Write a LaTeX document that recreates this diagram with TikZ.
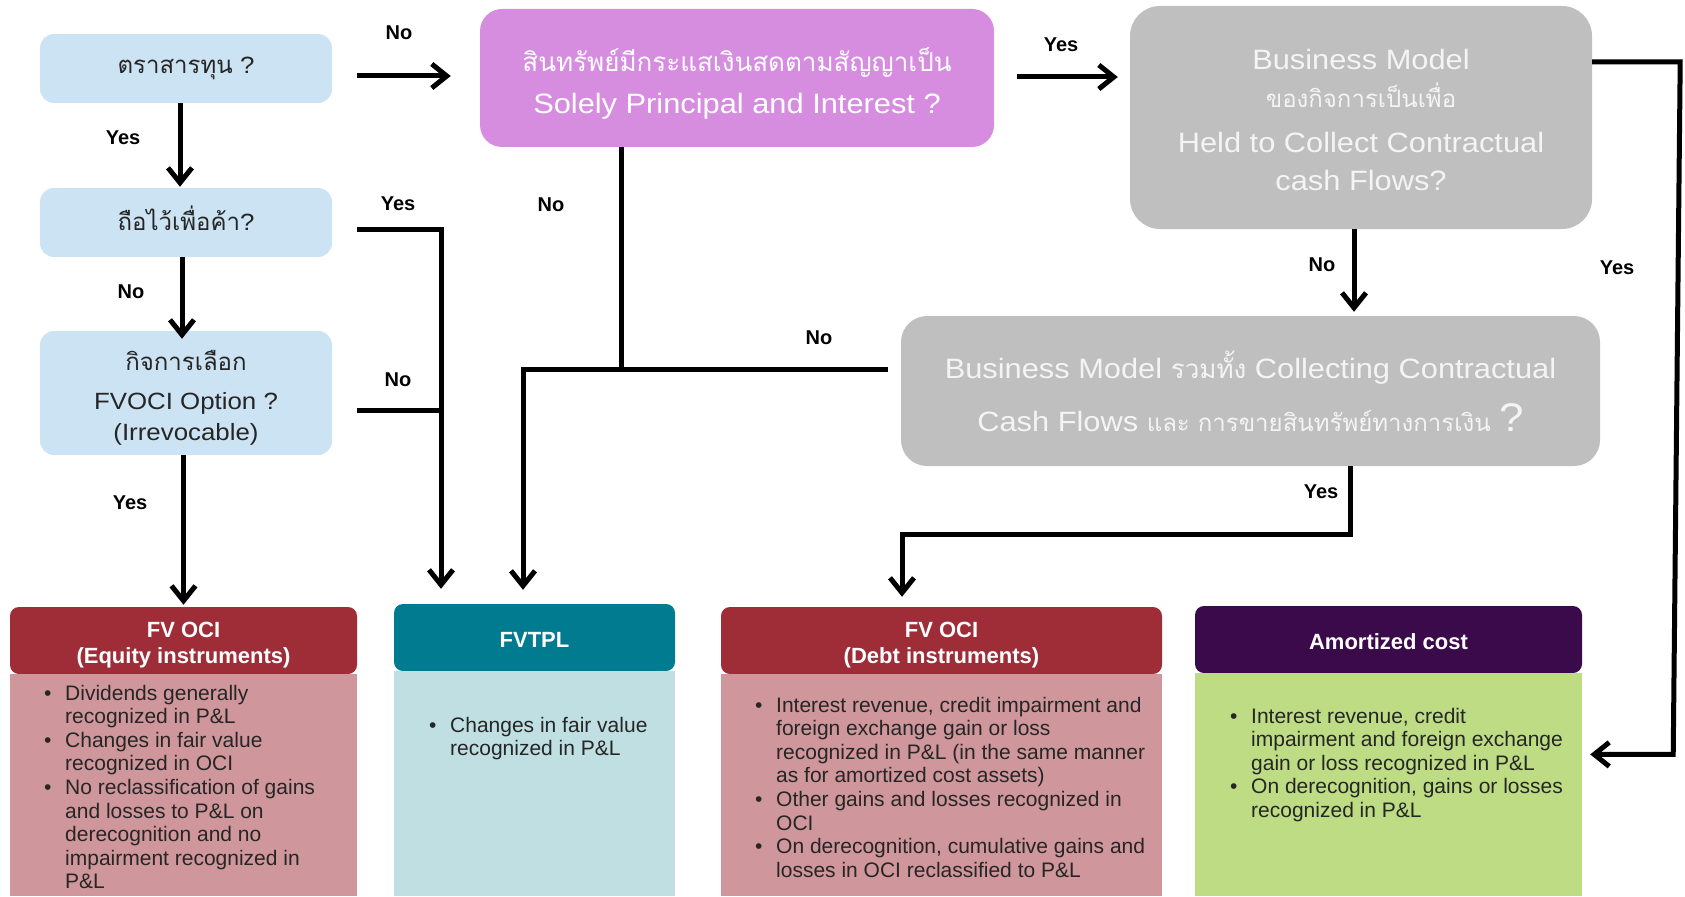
\documentclass[tikz,border=0pt]{standalone}
\usepackage{fontspec}
\setmainfont{Liberation Sans}
\newfontfamily\thai[Script=Thai]{Loma}
\newfontfamily\wide[FakeStretch=1.1]{Liberation Sans}
\usetikzlibrary{arrows.meta,calc}

\definecolor{qblue}{HTML}{CCE3F3}
\definecolor{qpink}{HTML}{D68DE0}
\definecolor{qgray}{HTML}{BFBFBF}
\definecolor{fvred}{HTML}{9E2D38}
\definecolor{fvredbody}{HTML}{CF969B}
\definecolor{tplhead}{HTML}{007B8F}
\definecolor{tplbody}{HTML}{BFDFE3}
\definecolor{amhead}{HTML}{3A0A4A}
\definecolor{ambody}{HTML}{BDDC83}
\definecolor{ink}{HTML}{262626}
\definecolor{paleink}{HTML}{F4F4F4}

\newcommand{\fs}[2]{\fontsize{#1}{#2}\selectfont}

\begin{document}
\begin{tikzpicture}[x=1pt,y=-1pt,
  question/.style={inner sep=0pt, align=center},
  bluebox/.style={question, rounded corners=14pt, fill=qblue, text=ink,
    minimum width=292pt, font=\wide\fs{23.5}{31}},
  bluetext/.style={inner sep=0pt, align=center, text=ink, font=\wide\fs{23.5}{31}},
  pinkbox/.style={question, rounded corners=22pt, fill=qpink},
  pinktext/.style={inner sep=0pt, align=center, text=white, font=\wide\fs{28}{37}},
  graybox/.style={question, rounded corners=30pt, fill=qgray, text=paleink,
    font=\wide\fs{28}{38}},
  graytext/.style={inner sep=0pt, align=center, text=paleink, font=\wide\fs{28}{38}},
  head/.style={inner sep=0pt, rounded corners=9pt, minimum height=67pt},
  headtext/.style={inner sep=0pt, align=center, text=white, font=\bfseries\fs{22}{26}},
  body/.style={inner sep=0pt, anchor=north},
  bullets/.style={anchor=base west, inner sep=0pt, font=\fs{21}{23.6}, text=ink},
  conn/.style={line width=5pt},
  arr/.style={conn, -{Straight Barb[length=15pt,width=24pt,line width=5pt]}},
  lbl/.style={inner sep=0pt, font=\bfseries\fs{20}{24}}
]
\useasboundingbox (0,0) rectangle (1685,896);

% ---------- decision boxes ----------
\node[bluebox, minimum height=69pt] (equity) at (186,68.5)
  {{\thai\fs{24}{30}ตราสารทุน} ?};
\node[bluebox, minimum height=69pt,
  label={[bluetext, yshift=4.5pt]center:{\thai\fs{24}{30}ถือไว้เพื่อค้า}?}] (held) at (186,222.5) {};
\node[bluebox, minimum height=124pt,
  label={[bluetext, yshift=-5pt]center:{\thai\fs{24}{30}กิจการเลือก}\\[8pt] FVOCI Option ?\\ (Irrevocable)}]
  (option) at (186,393) {};
\node[pinkbox, minimum width=514pt, minimum height=138pt,
  label={[pinktext, yshift=-5pt]center:{\thai\fs{26}{30}สินทรัพย์มีกระแสเงินสดตามสัญญาเป็น}\\[5pt] Solely Principal and Interest ?}]
  (sppi) at (737,78) {};
\node[graybox, minimum width=462pt, minimum height=223pt,
  label={[graytext, yshift=-2pt]center:Business Model\\ {\thai\fs{24}{30}ของกิจการเป็นเพื่อ}\\[7pt]
   Held to Collect Contractual\\ cash Flows?}]
  (bm1) at (1361,117.5) {};
\node[graybox, rounded corners=26pt, minimum width=699pt, minimum height=150pt] (bm2) at (1250.5,391)
  {Business Model {\thai\fs{26}{30}รวมทั้ง} Collecting Contractual\\[15pt]
   Cash Flows {\thai\fs{24}{30}และ การขายสินทรัพย์ทางการเงิน} {\fs{40}{44}?}};

% ---------- outcome boxes ----------
\node[head, fill=fvred, minimum width=347pt,
  label={[headtext, yshift=-4.5pt]center:FV OCI\\(Equity instruments)}] (fvoci) at (183.5,640.5) {};
\node[body, fill=fvredbody, minimum width=347pt, minimum height=222pt] (fvocibody) at (fvoci.south) {};
\node[bullets] (fvocitext) at (44,700) {\begin{tabular}[t]{@{}p{21pt}@{}l@{}}
  \textbullet & Dividends generally\\
              & recognized in P\&L\\
  \textbullet & Changes in fair value\\
              & recognized in OCI\\
  \textbullet & No reclassification of gains\\
              & and losses to P\&L on\\
              & derecognition and no\\
              & impairment recognized in\\
              & P\&L
  \end{tabular}};

\node[head, fill=tplhead, minimum width=281pt,
  label={[headtext, yshift=-2pt]center:FVTPL}] (tpl) at (534.5,637.5) {};
\node[body, fill=tplbody, minimum width=281pt, minimum height=225pt] (tplbody) at (tpl.south) {};
\node[bullets] (tpltext) at (429,732) {\begin{tabular}[t]{@{}p{21pt}@{}l@{}}
  \textbullet & Changes in fair value\\
              & recognized in P\&L
  \end{tabular}};

\node[head, fill=fvred, minimum width=441pt,
  label={[headtext, yshift=-4.5pt]center:FV OCI\\(Debt instruments)}] (debt) at (941.5,640.5) {};
\node[body, fill=fvredbody, minimum width=441pt, minimum height=222pt] (debtbody) at (debt.south) {};
\node[bullets] (debttext) at (755,712) {\begin{tabular}[t]{@{}p{21pt}@{}l@{}}
  \textbullet & Interest revenue, credit impairment and\\
              & foreign exchange gain or loss\\
              & recognized in P\&L (in the same manner\\
              & as for amortized cost assets)\\
  \textbullet & Other gains and losses recognized in\\
              & OCI\\
  \textbullet & On derecognition, cumulative gains and\\
              & losses in OCI reclassified to P\&L
  \end{tabular}};

\node[head, fill=amhead, minimum width=387pt,
  label={[headtext, yshift=-2pt]center:Amortized cost}] (amort) at (1388.5,639.5) {};
\node[body, fill=ambody, minimum width=387pt, minimum height=223pt] (ambodybox) at (amort.south) {};
\node[bullets] (amtext) at (1230,723) {\begin{tabular}[t]{@{}p{21pt}@{}l@{}}
  \textbullet & Interest revenue, credit\\
              & impairment and foreign exchange\\
              & gain or loss recognized in P\&L\\
  \textbullet & On derecognition, gains or losses\\
              & recognized in P\&L
  \end{tabular}};

% ---------- connectors ----------
\coordinate (joinopt) at (441,410);
\coordinate (joinsppi) at (621,369);

\draw[arr] ($(equity.east)+(25,7.5)$) -- ($(sppi.west)+(-29,-2)$);
\draw[arr] ($(sppi.east)+(23,-1)$) -- ($(bm1.west)+(-12,-40.5)$);
\draw[arr] ($(equity.south)+(-6,0)$) -- ($(held.north)+(-6,-1)$);
\draw[arr] ($(held.south)+(-4,0)$) -- ($(option.north)+(-4,8)$);
\draw[arr] (option.south -| fvoci.north) -- ($(fvoci.north)+(0,-2)$);
\draw[arr] ($(held.east)+(25,6.5)$) -| ($(tpl.north)+(-93.5,-15)$);
\draw[conn] ($(option.east)+(25,17)$) -- (joinopt);
\draw[conn] ($(sppi.south)+(-116,0)$) -- (joinsppi);
\draw[arr] ($(bm2.west)+(-13,-22)$) -| ($(tpl.north)+(-11.5,-14)$);
\draw[arr] ($(bm1.south)+(-7,0)$) -- ($(bm2.north)+(103.5,-4)$);
\draw[arr] ($(bm2.south)+(99.5,0)$) |- ($(debt.north)+(-39.5,-72)$) -- ($(debt.north)+(-39.5,-10)$);
\draw[arr] ($(bm1.east)+(0,-55.5)$) -- ($(bm1.east)+(88,-55.5)$)
  -- ($(ambodybox.east)+(91,-30.5)$) -- ($(ambodybox.east)+(8,-30.5)$);

% ---------- branch labels ----------
\node[lbl] (l1) at (399,33) {No};
\node[lbl] (l2) at (123,138) {Yes};
\node[lbl] (l3) at (398,204) {Yes};
\node[lbl] (l4) at (131,292) {No};
\node[lbl] (l5) at (398,380) {No};
\node[lbl] (l6) at (130,503) {Yes};
\node[lbl] (l7) at (551,205) {No};
\node[lbl] (l8) at (819,338) {No};
\node[lbl] (l9) at (1061,45) {Yes};
\node[lbl] (l10) at (1322,265) {No};
\node[lbl] (l11) at (1617,268) {Yes};
\node[lbl] (l12) at (1321,492) {Yes};
\end{tikzpicture}
\end{document}
